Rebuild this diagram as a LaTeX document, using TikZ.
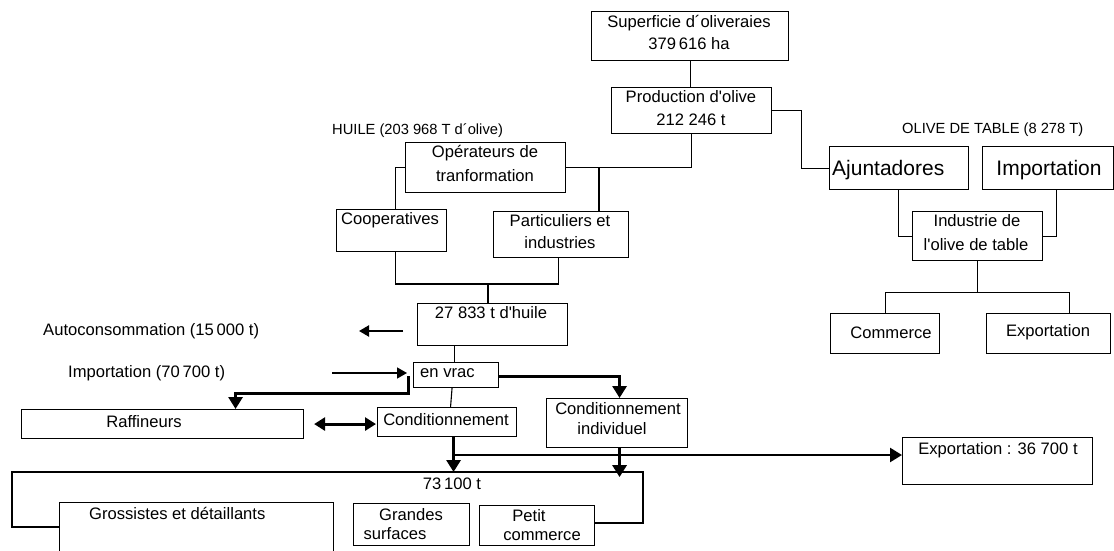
\documentclass[tikz,border=0pt]{standalone}
\usepackage{fontspec}
\setmainfont{Liberation Sans}
\usetikzlibrary{arrows.meta,calc}
\begin{document}
\begin{tikzpicture}[x=1pt,y=-1pt,
  box/.style={draw, line width=1.1pt, inner sep=0, anchor=north west},
  lbl/.style={inner sep=0, font=\fontsize{16.6}{19}\selectfont, anchor=mid, yshift=-2.2pt},
  lbll/.style={lbl, anchor=mid west},
  small/.style={inner sep=0, font=\fontsize{14.7}{17}\selectfont, anchor=mid west, yshift=-2pt},
  big/.style={inner sep=0, font=\fontsize{21}{24}\selectfont, anchor=mid, yshift=-2.5pt},
  thin/.style={line width=1.1pt},
  heavy/.style={line width=3pt},
  arr/.style={-{Triangle[length=12pt,width=14pt]}},
  arrs/.style={-{Triangle[length=10pt,width=11pt]}},
  darr/.style={{Triangle[length=11pt,width=13pt]}-{Triangle[length=11pt,width=13pt]}}
]
\useasboundingbox (0,0) rectangle (1114,551);

% ---------- boxes ----------
\node[box, minimum width=197pt, minimum height=49pt] (sup)    at (591,11)  {};
\node[box, minimum width=160pt, minimum height=46pt] (prod)   at (611,87)  {};
\node[box, minimum width=160pt, minimum height=50pt] (oper)   at (405,142) {};
\node[box, minimum width=110pt, minimum height=42pt] (coop)   at (336,209) {};
\node[box, minimum width=135pt, minimum height=46pt] (part)   at (493,211) {};
\node[box, minimum width=150pt, minimum height=42pt] (huile)  at (417,303) {};
\node[box, minimum width=85pt,  minimum height=25pt] (vrac)   at (413,362) {};
\node[box, minimum width=282pt, minimum height=29pt] (raff)   at (21,409)  {};
\node[box, minimum width=139pt, minimum height=29pt] (cond)   at (377,407) {};
\node[box, minimum width=141pt, minimum height=49pt] (condi)  at (546,398) {};
\node[box, minimum width=190pt, minimum height=47pt] (export) at (902,437) {};
\node[box, minimum width=274pt, minimum height=62pt] (gross)  at (59,502)  {};
\node[box, minimum width=116pt, minimum height=42pt] (grand)  at (353,503) {};
\node[box, minimum width=115pt, minimum height=40pt] (petit)  at (479,505) {};
\node[box, minimum width=139pt, minimum height=43pt] (ajunt)  at (829,146) {};
\node[box, minimum width=131pt, minimum height=43pt] (imp)    at (982,146) {};
\node[box, minimum width=130pt, minimum height=49pt] (indus)  at (912,211) {};
\node[box, minimum width=109pt, minimum height=40pt] (comm)   at (830,313) {};
\node[box, minimum width=124pt, minimum height=40pt] (exp2)   at (986,313) {};

% ---------- texts ----------
\node[lbl] (tsup1) at (689,23) {Superficie d´oliveraies};
\node[lbl] (tsup2) at (689,45) {379\,616 ha};
\node[lbl] (tprod1) at (691,98) {Production d\textquotesingle olive};
\node[lbl] (tprod2) at (691,121) {212 246 t};
\node[small] (thuile) at (332,130) {HUILE (203 968 T d´olive)};
\node[lbl] (toper1) at (485,153) {Opérateurs de};
\node[lbl] (toper2) at (485,177) {tranformation};
\node[lbll] (tcoop) at (341,220) {Cooperatives};
\node[lbl] (tpart1) at (560,222) {Particuliers et};
\node[lbl] (tpart2) at (560,244) {industries};
\node[lbl] (thuil) at (491,314) {27 833 t d\textquotesingle huile};
\node[lbll] (tauto) at (43,331) {Autoconsommation (15\,000 t)};
\node[lbll] (timpo) at (68,373) {Importation (70\,700 t)};
\node[lbll] (tvrac) at (420,373) {en vrac};
\node[lbl] (traff) at (144,423) {Raffineurs};
\node[lbl] (tcond) at (446,421) {Conditionnement};
\node[lbl] (tcondi1) at (618,410) {Conditionnement};
\node[lbl] (tcondi2) at (612,430) {individuel};
\node[lbl] (texport) at (998,450) {Exportation : 36 700 t};
\node[lbl] (t731) at (452,485) {73\,100 t};
\node[lbll] (tgross) at (89,515) {Grossistes et détaillants};
\node[lbl] (tgrand1) at (411,516) {Grandes};
\node[lbl] (tgrand2) at (395,535) {surfaces};
\node[lbl] (tpetit1) at (529,517) {Petit};
\node[lbl] (tpetit2) at (542,536) {commerce};
\node[small] (tolive) at (902,129) {OLIVE DE TABLE (8 278 T)};
\node[big, anchor=mid west] (tajunt) at (832,170) {Ajuntadores};
\node[big] (timp) at (1049,170) {Importation};
\node[lbl] (tind1) at (977,222) {Industrie de};
\node[lbl] (tind2) at (976,246) {l\textquotesingle olive de table};
\node[lbl] (tcomm) at (891,334) {Commerce};
\node[lbl] (texp2) at (1048,332) {Exportation};

% ---------- connectors (huile) ----------
\draw[thin] (sup.south) -- (sup.south |- prod.north);
\draw[thin] (prod.south) |- (oper.east);
\coordinate (j1) at (599,168);
\draw[thin] (j1) -- (j1 |- part.north);
\draw[thin] (oper.west) -| ([xshift=4pt]coop.north);
\coordinate (j2) at (488,284);
\draw[thin] ([xshift=4pt]coop.south) |- (j2) -| ([xshift=-2.5pt]part.south);
\draw[thin] (j2) -- (j2 |- huile.north);
\coordinate (a1) at (403,331);
\coordinate (a2) at (359,331);
\draw[line width=2.2pt, arrs] (a1) -- (a2);
\draw[thin] ([xshift=-38pt]huile.south) -- ([xshift=-38pt]huile.south |- vrac.north);
\draw[thin] ([xshift=-4pt]vrac.south) -- ([xshift=3.5pt]cond.north);
\coordinate (i1) at (332,373);
\draw[line width=1.4pt, arrs] (i1) -- ([xshift=-6pt]vrac.west |- i1);
\draw[heavy, arr] ([xshift=-5pt,yshift=-1pt]vrac.west) -- ++(0,17) -| ([xshift=73pt]raff.north);
\draw[heavy, darr] ([xshift=10pt]raff.east) -- ([xshift=-1pt]cond.west |- raff.east);
\draw[heavy, arr] ([yshift=-1.5pt]vrac.east) -| ([xshift=2.5pt]condi.north);

% big bracket
\coordinate (b1) at (12,527);
\coordinate (b2) at (12,472);
\coordinate (b3) at (643,472);
\coordinate (b4) at (643,523);
\draw[thin] (gross.west |- b1) -- (b1) -- (b2) -- (b3) -- (b4) -- (petit.east |- b4);

\draw[heavy, line width=3.5pt, arr] ([xshift=6.5pt]cond.south) -- ([xshift=6.5pt]cond.south |- b2);
\coordinate (e0) at (453,455);
\draw[line width=2.5pt, arr] (e0) -- (e0 -| export.west);
\draw[heavy, arr] ([xshift=2.5pt]condi.south) -- ++(0,29);

% ---------- connectors (olive de table) ----------
\draw[thin] (prod.east) -- ++(29,0) |- (ajunt.west);
\draw[thin] ([xshift=-0.5pt]ajunt.south) |- (indus.west);
\draw[thin] ([xshift=8.5pt]imp.south) |- (indus.east);
\draw[thin] (indus.south) -- ++(0,31) coordinate (j3);
\draw[thin] (comm.north) |- (j3) -| ([xshift=21pt]exp2.north);
\end{tikzpicture}
\end{document}
